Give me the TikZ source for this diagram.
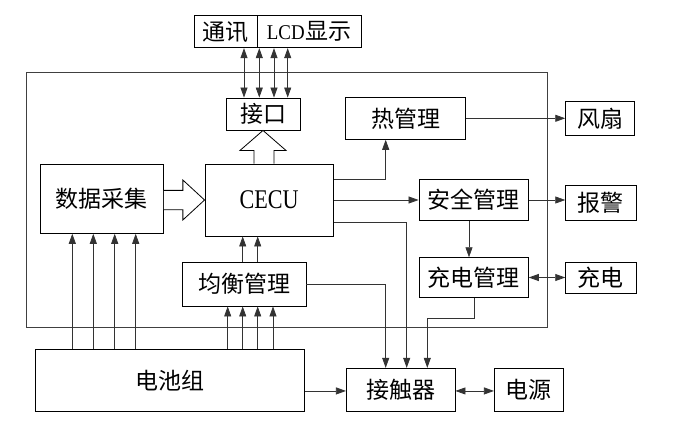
\documentclass[tikz,border=0pt]{standalone}
\usepackage{fontspec}
\usetikzlibrary{arrows.meta,calc}
\newfontfamily\cjkf{Noto Sans CJK SC}
\newfontfamily\latf[FakeStretch=0.9]{Liberation Serif}
\newfontfamily\latn[FakeStretch=0.82]{Liberation Serif}
\tikzset{
  box/.style={draw=black, line width=0.9pt, inner sep=0pt, font=\cjkf\fontsize{23}{25}\selectfont},
  conn/.style={draw=black!80, line width=0.75pt},
  arr/.style={conn, -{Triangle[length=10pt,width=7pt]}},
  darr/.style={conn, {Triangle[length=10pt,width=7pt]}-{Triangle[length=10pt,width=7pt]}},
  hollow/.style={draw=black, line width=0.8pt, fill=white, line join=miter},
  frame/.style={draw=black!75, line width=0.8pt}
}
\begin{document}
\begin{tikzpicture}[x=1pt,y=-1pt]
\useasboundingbox[fill=white] (0,0) rectangle (689,431);
% outer frame
\draw[frame] (26.7,72.7) rectangle (547.7,327.7);
% boxes
\node[box, minimum width=63.7pt, minimum height=32pt] (tx) at (225.85,31.7) {通讯};
\node[box, minimum width=103.3pt, minimum height=32pt] (lcd) at (309.35,31.7) {{\latf\fontsize{21}{22}\selectfont LCD}\kern1pt 显示};
\node[box, minimum width=74pt, minimum height=32pt] (jk) at (263,114) {接口};
\node[box, minimum width=120pt, minimum height=42pt] (heat) at (405.7,118.3) {热管理};
\node[box, minimum width=68.6pt, minimum height=33.3pt] (fan) at (600,118.3) {风扇};
\node[box, minimum width=122.6pt, minimum height=69.3pt] (data) at (102,198.65) {数据采集};
\node[box, minimum width=128.3pt, minimum height=72pt, font=\latn\fontsize{27}{28}\selectfont] (cecu) at (269.15,200) {CECU};
\node[box, minimum width=109.3pt, minimum height=41.4pt] (safe) at (473.65,200) {安全管理};
\node[box, minimum width=70.3pt, minimum height=35.7pt] (alarm) at (600.85,202.85) {报警};
\node[box, minimum width=123.3pt, minimum height=43.7pt] (bal) at (244.35,284.15) {均衡管理};
\node[box, minimum width=109.3pt, minimum height=39.6pt] (chg) at (473.65,277.5) {充电管理};
\node[box, minimum width=70.3pt, minimum height=30.6pt] (charge) at (600.85,278) {充电};
\node[box, minimum width=269.6pt, minimum height=61.7pt] (bat) at (169.8,380.15) {电池组};
\node[box, minimum width=108.6pt, minimum height=42.7pt] (con) at (400.7,389.65) {接触器};
\node[box, minimum width=69.1pt, minimum height=42.7pt] (pow) at (528.95,389.65) {电源};
% comm <-> interface
\foreach \dx in {-19,-3.7,11,24.7}{
  \path ([xshift=\dx pt]jk.north) coordinate (t);
  \draw[darr] (t |- lcd.south) -- (t);
}
% battery -> data acquisition
\foreach \dx in {-29.7,-8.7,12.7,33.7}{
  \path ([xshift=\dx pt]data.south) coordinate (t);
  \draw[arr] (t |- bat.north) -- (t);
}
% battery -> balance
\foreach \dx in {-16.65,-1.65,13.35,28.65}{
  \path ([xshift=\dx pt]bal.south) coordinate (t);
  \draw[arr] (t |- bat.north) -- (t);
}
% balance -> CECU
\foreach \dx in {-1.65,13.35}{
  \path ([xshift=\dx pt]bal.north) coordinate (t);
  \draw[arr] (t) -- (t |- cecu.south);
}
% hollow arrows
\draw[hollow] let \p1=(data.east), \p2=(cecu.west) in
  (\x1,\y2+9.65pt) -- (\x2-21.7pt,\y2+9.65pt) -- (\x2-21.7pt,\y2+20pt) -- (\p2)
  -- (\x2-21.7pt,\y2-20pt) -- (\x2-21.7pt,\y2-9.65pt) -- (\x1,\y2-9.65pt);
\draw[hollow] let \p1=(cecu.north), \p2=(jk.south) in
  (\x2-9pt,\y1) -- (\x2-9pt,\y2-20pt) -- (\x2-23pt,\y2-20pt) -- (\p2)
  -- (\x2+23pt,\y2-20pt) -- (\x2+11pt,\y2-20pt) -- (\x2+11pt,\y1);
% CECU outputs
\draw[arr] ([yshift=20.7pt]cecu.east) -| ([xshift=-20pt]heat.south);
\draw[arr] (cecu.east) -- (safe.west);
\draw[arr] ([yshift=-22.7pt]cecu.east) -| ([xshift=6pt]con.north);
% other connectors
\draw[arr] (heat.east) -- (heat.east -| fan.west);
\draw[arr] (safe.east) -- (safe.east -| alarm.west);
\draw[arr] ([xshift=-4.65pt]safe.south) -- ([xshift=-4.65pt]chg.north);
\draw[darr] (chg.east) -- (chg.east -| charge.west);
\draw[arr] (bal.east) -| ([xshift=-15pt]con.north);
\draw[arr] ([xshift=0.65pt]chg.south) -- ++(0pt,-20.4pt) -| ([xshift=26.6pt]con.north);
\draw[arr] ([yshift=-1.3pt]con.west -| bat.east) -- ([yshift=-1.3pt]con.west);
\draw[darr] ([yshift=-1.3pt]con.east) -- ([yshift=-1.3pt]pow.west);
\end{tikzpicture}
\end{document}
